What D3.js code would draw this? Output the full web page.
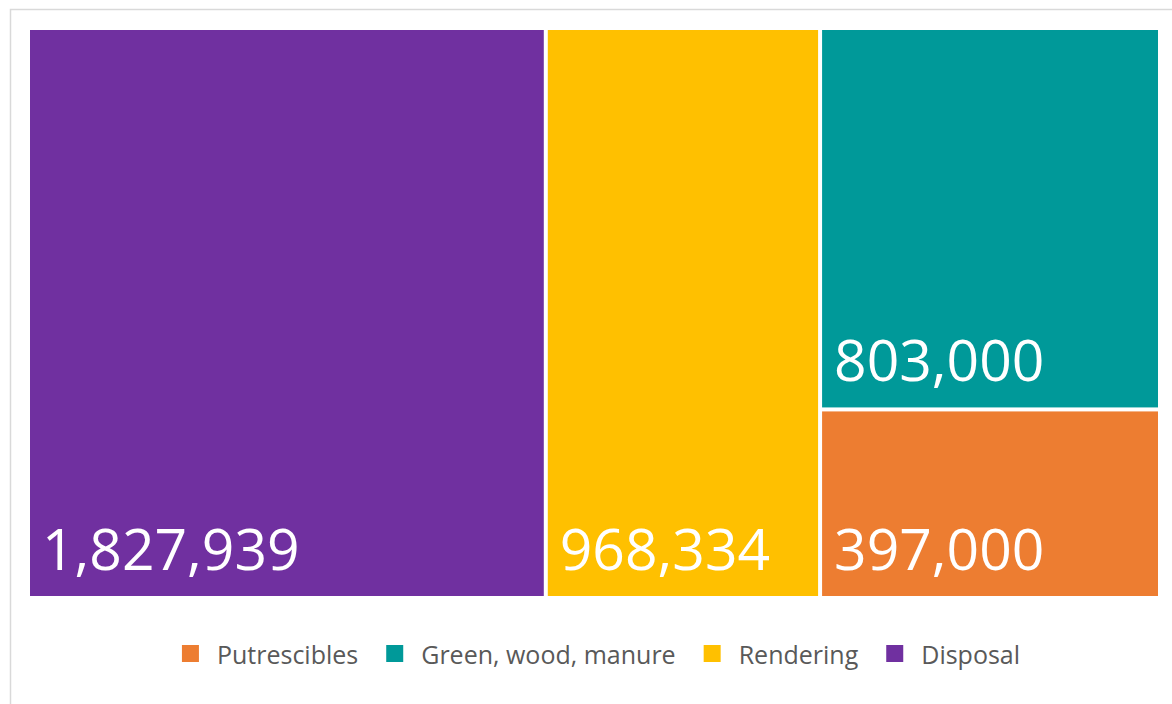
<!DOCTYPE html>
<html>
<head>
<meta charset="utf-8">
<script src="https://cdn.jsdelivr.net/npm/d3@7"></script>
<style>
  html, body { margin: 0; padding: 0; background: #ffffff; }
  svg { display: block; }
</style>
</head>
<body>
<svg id="chart" width="1172" height="704"></svg>
<script>
// Data
const categories = ["Disposal", "Rendering", "Green, wood, manure", "Putrescibles"];
const values = [1827939, 968334, 803000, 397000];
const colors = ["#7030A0", "#FFC000", "#009999", "#ED7D31"];
const legendOrder = ["Putrescibles", "Green, wood, manure", "Rendering", "Disposal"];
// grouping of the two smaller categories into one column (as in the source layout)
const groups = [["Disposal"], ["Rendering"], ["Green, wood, manure", "Putrescibles"]];

const W = 1172, H = 704;
const svg = d3.select("#chart");

// chart border (partly cropped)
svg.append("rect")
  .attr("x", 10.5).attr("y", 9.5)
  .attr("width", W).attr("height", H)
  .attr("fill", "none").attr("stroke", "#d9d9d9").attr("stroke-width", 1.5);

const valueOf = new Map(categories.map((c, i) => [c, values[i]]));
const colorOf = new Map(categories.map((c, i) => [c, colors[i]]));

const rootData = {
  name: "root",
  children: groups.map((g, gi) => g.length === 1
    ? { name: g[0], value: valueOf.get(g[0]) }
    : { name: "group" + gi, children: g.map(n => ({ name: n, value: valueOf.get(n) })) })
};

const root = d3.hierarchy(rootData).sum(d => d.value || 0);

const area = { x0: 30, y0: 30, x1: 1158, y1: 596 };
d3.treemap()
  .tile(d3.treemapSliceDice)
  .size([area.x1 - area.x0, area.y1 - area.y0])
  .paddingInner(4)
  .round(false)(root);

const g = svg.append("g").attr("transform", `translate(${area.x0},${area.y0})`);
const leaves = root.leaves();

g.selectAll("rect.cell").data(leaves).join("rect")
  .attr("class", "cell")
  .attr("x", d => d.x0).attr("y", d => d.y0)
  .attr("width", d => d.x1 - d.x0).attr("height", d => d.y1 - d.y0)
  .attr("fill", d => colorOf.get(d.data.name));

const fmt = d3.format(",");
g.selectAll("text.lbl").data(leaves).join("text")
  .attr("class", "lbl")
  .attr("x", d => d.x0 + 12)
  .attr("y", d => d.y1 - 26)
  .attr("fill", "#ffffff")
  .attr("font-family", "'Open Sans', sans-serif")
  .attr("font-size", 57)
  .text(d => fmt(d.data.value));

// Legend
const legend = svg.append("g").attr("font-family", "'Open Sans', sans-serif").attr("font-size", 25);
const items = legend.selectAll("g.item").data(legendOrder).join("g").attr("class", "item");
items.append("rect")
  .attr("width", 17).attr("height", 17)
  .attr("y", 645)
  .attr("fill", d => colorOf.get(d));
items.append("text")
  .attr("x", 35).attr("y", 664)
  .attr("fill", "#595959")
  .text(d => d);

let xpos = 0;
const positions = [];
items.each(function () {
  const tw = d3.select(this).select("text").node().getComputedTextLength();
  positions.push(xpos);
  xpos += 35 + tw + 28;
});
const totalW = xpos - 28;
const startX = 601 - totalW / 2;
items.attr("transform", (d, i) => `translate(${startX + positions[i]},0)`);
</script>
</body>
</html>
